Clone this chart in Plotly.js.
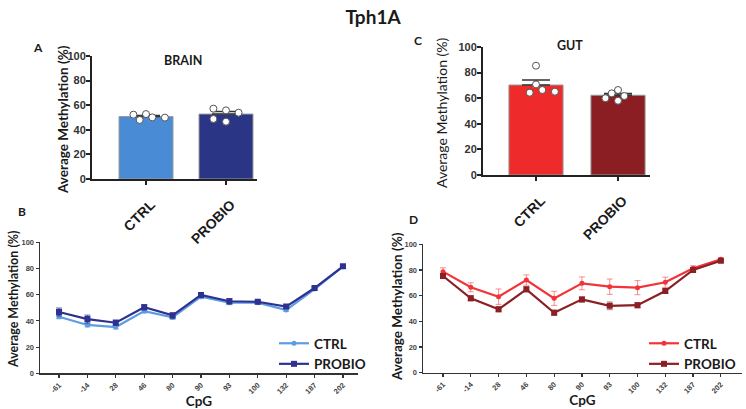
<!DOCTYPE html>
<html>
<head>
<meta charset="utf-8">
<script src="https://cdn.plot.ly/plotly-3.0.1.min.js"></script>
<style>html,body{margin:0;padding:0;background:#fff;}#chart{width:746px;height:409px;}</style>
</head>
<body>
<div id="chart"></div>
<script>
// ---- data ----
const barCats = ['CTRL', 'PROBIO'];
const brainMeans = [50.8, 52.8];
const brainSem = [0.9, 2.0];
const brainCtrlDots = [52.8, 50.1, 48.0, 49.9, 52.3];
const brainProbioDots = [55.8, 46.6, 53.9, 48.8, 57.2];
const gutMeans = [70.3, 62.3];
const gutSem = [3.9, 1.3];
const gutCtrlDots = [85.4, 70.8, 66.4, 64.3, 65.1];
const gutProbioDots = [66.4, 61.7, 58.0, 60.0, 63.8];

const cpgSites = ['-61', '-14', '28', '46', '80', '90', '93', '100', '132', '187', '202'];
const brainCtrlLine = [43.2, 36.9, 35.3, 47.5, 42.7, 58.5, 53.9, 53.9, 48.3, 64.3, 81.4];
const brainCtrlErr = [1.5, 1.5, 1.5, 1.5, 1.5, 1.5, 1.5, 1, 1, 1, 1];
const brainProbioLine = [46.8, 41.4, 38.6, 50.4, 44.2, 59.8, 55.0, 54.6, 50.9, 65.1, 81.7];
const brainProbioErr = [3, 3, 2, 2, 2, 1.5, 2, 1, 1, 1, 1];
const gutCtrlLine = [78.7, 66.5, 59.2, 72.2, 57.9, 69.6, 67.0, 66.2, 70.4, 81.3, 88.3];
const gutCtrlErr = [3, 3.5, 6, 4, 5.5, 5, 6, 5.5, 4, 2, 1];
const gutProbioLine = [75.3, 57.9, 49.4, 64.9, 46.7, 57.1, 52.1, 52.6, 63.6, 80.0, 87.2];
const gutProbioErr = [2, 2, 2, 2, 2, 2, 3, 2, 1.5, 1, 1];

const yTitle = 'Average Methylation (%)';

// ---- layout helpers ----
const W = 746, H = 409;
const px = v => v / W;
const py = v => 1 - v / H;

const colBrainCtrl = '#4a8bd6', colBrainProbio = '#2b3585';
const colGutCtrl = '#ee2a2b', colGutProbio = '#8a1e22';
const colLineBCtrl = '#5b9ce2', colLineBProbio = '#2e3190';
const colLineDCtrl = '#f0343a', colLineDProbio = '#8b1f24';

const fTick = 'Liberation Sans, Arial, sans-serif';
const fText = 'Lato, Open Sans, sans-serif';

const panels = {
  A: {xd: [92, 257], yd: [179, 56], xr: [-0.675, 1.3875]},
  C: {xd: [483, 650], yd: [175, 47], xr: [-0.646, 1.39]},
  B: {xd: [40, 358], yd: [373.3, 242.3], xr: [-0.67, 10.53]},
  D: {xd: [423, 742], yd: [372.7, 244.3], xr: [-0.72, 10.76]}
};

// simple beeswarm offsets (in x-axis units) from pixel scales
function swarm(vals, p, diam) {
  const pxX = (p.xd[1] - p.xd[0]) / (p.xr[1] - p.xr[0]);
  const pxY = (p.yd[0] - p.yd[1]) / 100;
  const step = diam * 0.9;
  const placed = [];
  return vals.map(v => {
    const order = [0, 1, -1, 2, -2, 3, -3];
    for (const k of order) {
      const ok = placed.every(q => {
        const dx = (k - q.k) * step, dy = (v - q.v) * pxY;
        return Math.sqrt(dx * dx + dy * dy) >= diam;
      });
      if (ok) { placed.push({k, v}); return k * step / pxX; }
    }
    return 0;
  });
}

const barIdx = barCats.map((_, i) => i);
const cpgIdx = cpgSites.map((_, i) => i);

function dotTrace(vals, groupIndex, p, xa, ya) {
  const offs = swarm(vals, p, 7);
  return {
    type: 'scatter', mode: 'markers', xaxis: xa, yaxis: ya, showlegend: false,
    x: vals.map((_, i) => groupIndex + offs[i]), y: vals,
    marker: {size: 7, color: '#ffffff', line: {color: '#555555', width: 1}},
    hoverinfo: 'y'
  };
}

function barTrace(means, sem, colors, width, xa, ya) {
  return {
    type: 'bar', x: barIdx, y: means, xaxis: xa, yaxis: ya, width: width, showlegend: false,
    marker: {color: colors, line: {color: '#9a9a9a', width: 1}},
    error_y: {type: 'data', array: sem, arrayminus: sem.map(() => 0), symmetric: false,
              color: '#333333', thickness: 1.5, width: 14}
  };
}

function lineTrace(name, vals, err, color, errColor, symbol, xa, ya, legend) {
  return {
    type: 'scatter', mode: 'lines+markers', name: name, x: cpgIdx, y: vals,
    xaxis: xa, yaxis: ya, legend: legend,
    line: {color: color, width: 2.2},
    marker: {color: color, size: symbol === 'square' ? 6 : 5, symbol: symbol},
    error_y: {type: 'data', array: err, color: errColor, thickness: 1, width: 3}
  };
}

const data = [
  barTrace(brainMeans, brainSem, [colBrainCtrl, colBrainProbio], 0.675, 'x', 'y'),
  dotTrace(brainCtrlDots, 0, panels.A, 'x', 'y'),
  dotTrace(brainProbioDots, 1, panels.A, 'x', 'y'),
  barTrace(gutMeans, gutSem, [colGutCtrl, colGutProbio], 0.66, 'x2', 'y2'),
  dotTrace(gutCtrlDots, 0, panels.C, 'x2', 'y2'),
  dotTrace(gutProbioDots, 1, panels.C, 'x2', 'y2'),
  lineTrace('CTRL', brainCtrlLine, brainCtrlErr, colLineBCtrl, 'rgba(91,156,226,0.8)', 'circle', 'x3', 'y3', 'legend'),
  lineTrace('PROBIO', brainProbioLine, brainProbioErr, colLineBProbio, 'rgba(46,49,144,0.8)', 'square', 'x3', 'y3', 'legend'),
  lineTrace('CTRL', gutCtrlLine, gutCtrlErr, colLineDCtrl, 'rgba(240,52,58,0.55)', 'circle', 'x4', 'y4', 'legend2'),
  lineTrace('PROBIO', gutProbioLine, gutProbioErr, colLineDProbio, 'rgba(139,31,36,0.55)', 'square', 'x4', 'y4', 'legend2')
];

function barX(p, anchor) {
  return {
    domain: [px(p.xd[0]), px(p.xd[1])], range: p.xr, anchor: anchor,
    tickvals: barIdx, ticktext: barCats, tickangle: -45, ticklabelstandoff: 6, ticklabelshift: 5,
    tickfont: {family: fTick, size: 14, color: '#1a1a1a', weight: 'bold'},
    ticks: 'outside', ticklen: 4, tickwidth: 2, tickcolor: '#222',
    showline: true, linewidth: 2, linecolor: '#222', showgrid: false, zeroline: false
  };
}
function barY(p, anchor) {
  return {
    domain: [py(p.yd[0]), py(p.yd[1])], range: [0, 100], anchor: anchor,
    tickvals: [0, 20, 40, 60, 80, 100], ticklabelstandoff: -2,
    tickfont: {family: fTick, size: 11, color: '#333', weight: 'bold'},
    ticks: 'outside', ticklen: 4, tickwidth: 2, tickcolor: '#222',
    showline: true, linewidth: 2, linecolor: '#222', showgrid: false, zeroline: false
  };
}
function lineX(p, anchor) {
  return {
    domain: [px(p.xd[0]), px(p.xd[1])], range: p.xr, anchor: anchor,
    tickvals: cpgIdx, ticktext: cpgSites, tickangle: -45,
    tickfont: {family: fTick, size: 7.5, color: '#444', weight: 'bold'},
    ticks: 'outside', ticklen: 3, tickwidth: 1.2, tickcolor: '#333',
    showline: true, linewidth: 1.5, linecolor: '#333', showgrid: false, zeroline: false,
    title: {text: 'CpG', standoff: 0, font: {family: fText, size: 13.5, color: '#1a1a1a', weight: 'bold'}}
  };
}
function lineY(p, anchor) {
  return {
    domain: [py(p.yd[0]), py(p.yd[1])], range: [0, 100], anchor: anchor,
    tickvals: [0, 20, 40, 60, 80, 100],
    tickfont: {family: fTick, size: 7.5, color: '#444', weight: 'bold'},
    ticks: 'outside', ticklen: 3, tickwidth: 1.2, tickcolor: '#333',
    showline: true, linewidth: 1.5, linecolor: '#333', showgrid: false, zeroline: false
  };
}

function label(text, x, y, size, bold, angle) {
  return {text: text, xref: 'paper', yref: 'paper', x: px(x), y: py(y), showarrow: false,
          xanchor: 'center', yanchor: 'middle', textangle: angle || 0,
          font: {family: fText, size: size, color: '#1a1a1a', weight: bold ? 'bold' : 'normal'}};
}

const legendFont = {family: fText, size: 13.5, color: '#1a1a1a', weight: 'bold'};

const layout = {
  width: W, height: H, margin: {l: 0, r: 0, t: 0, b: 0},
  paper_bgcolor: '#ffffff', plot_bgcolor: 'rgba(0,0,0,0)',
  title: {text: 'Tph1A', x: 0.5, xanchor: 'center', y: 1 - 17 / H, yanchor: 'middle',
          font: {family: fText, size: 19, color: '#1a1a1a', weight: 'bold'}},
  xaxis: barX(panels.A, 'y'), yaxis: barY(panels.A, 'x'),
  xaxis2: barX(panels.C, 'y2'), yaxis2: barY(panels.C, 'x2'),
  xaxis3: lineX(panels.B, 'y3'), yaxis3: lineY(panels.B, 'x3'),
  xaxis4: lineX(panels.D, 'y4'), yaxis4: lineY(panels.D, 'x4'),
  legend: {x: px(274), y: py(328), xanchor: 'left', yanchor: 'top', bgcolor: 'rgba(0,0,0,0)',
           itemwidth: 30, font: legendFont},
  legend2: {x: px(644), y: py(328), xanchor: 'left', yanchor: 'top', bgcolor: 'rgba(0,0,0,0)',
            itemwidth: 30, font: legendFont},
  annotations: [
    label('A', 38, 47, 12, true),
    label('C', 418, 40, 12, true),
    label('B', 22, 211, 12, true),
    label('D', 413, 219, 12, true),
    label('BRAIN', 183, 60, 12.5, true),
    label('GUT', 570, 45, 12.5, true),
    label(yTitle, 63, 120, 13.5, true, -90),
    label(yTitle, 442, 112, 14, false, -90),
    label(yTitle, 13, 299, 12.5, true, -90),
    label(yTitle, 397, 307, 13.5, true, -90)
  ]
};

Plotly.newPlot('chart', data, layout, {staticPlot: true, displayModeBar: false});
</script>
</body>
</html>
